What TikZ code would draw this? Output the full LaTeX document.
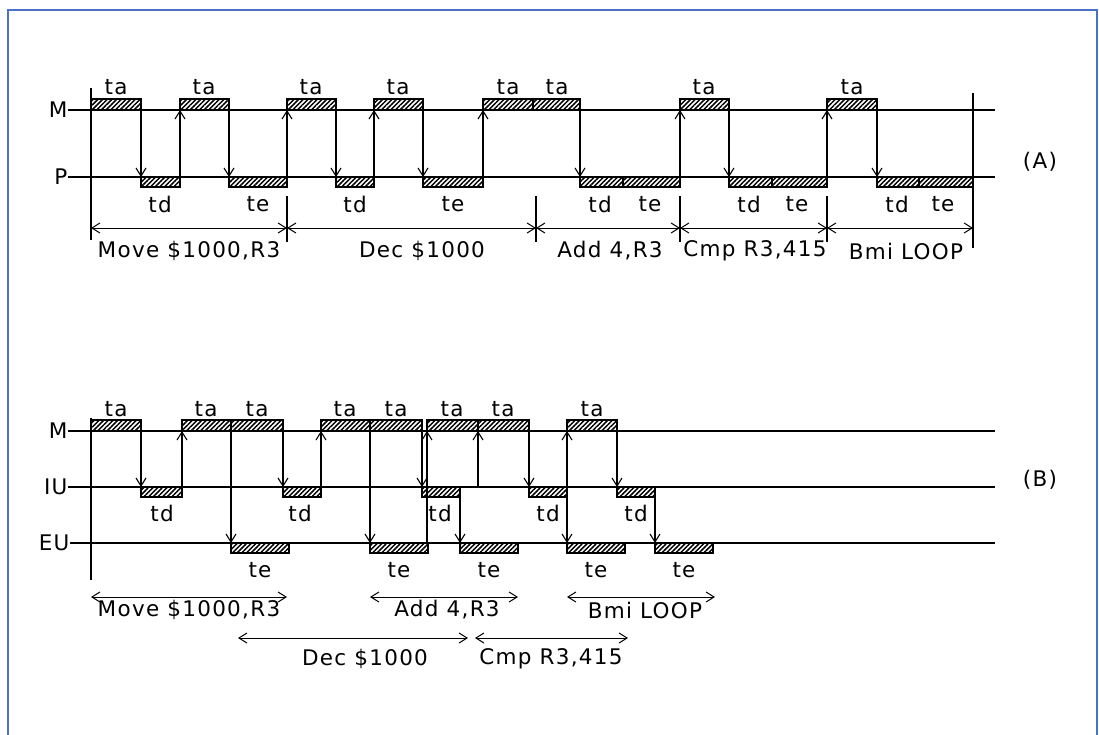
\documentclass[tikz,border=0pt]{standalone}
\usepackage{fontspec}
\usepackage{tikz}
\usepackage{xcolor}
\usetikzlibrary{patterns.meta,arrows.meta}
\newfontfamily\plotfont[LetterSpace=6]{DejaVu Sans}
\definecolor{frameblue}{RGB}{74,112,204}

\begin{document}
\begin{tikzpicture}[x=1pt, y=-1pt, line width=1.1pt,
    >={Straight Barb[length=8pt,width=10pt]},
    every node/.style={inner sep=0pt, font=\plotfont\fontsize{21.5}{25}\selectfont},
    hatchbox/.style={draw, line width=1.5pt, pattern={Lines[angle=45,distance=3.3pt,line width=1.5pt]}},
    dimline/.style={<->, line width=1pt}]
  \useasboundingbox (0,0) rectangle (1099,734);

  % frame round the figure
  \draw[frameblue, line width=2.5pt] (8,740) -- (8,10) -- (1097,10) -- (1097,740);

  % ---------- (A) sequential: M and P ----------
  \node[anchor=east] (MA) at (68,110) {M};
  \node[anchor=east] (PA) at (68,177) {P};
  \draw (MA.east) -- (995,110);
  \draw (PA.east) -- (995,177);
  \node (labA) at (1040,162) {(A)};

  % memory accesses (ta) and processor phases (td, te)
  \foreach \a/\b in {91/141,180/229,287/336,374/423,483/533,533/580,680/729,827/877}
    \draw[hatchbox] (\a,99) rectangle (\b,110);
  \foreach \a/\b in {141/180,229/287,336/374,423/483,580/623,623/680,729/772,772/827,877/919,919/973}
    \draw[hatchbox] (\a,177) rectangle (\b,187);

  % hand-overs between M and P
  \foreach \x in {141,229,336,423,580,729,877} \draw[->] (\x,110) -- (\x,177);
  \foreach \x in {180,287,374,483,680,827} \draw[->] (\x,177) -- (\x,110);

  \foreach \x [count=\i] in {116,204,311,398,508,557,704,852}
    \node (taA\i) at (\x,87) {ta};
  \foreach \x/\t [count=\i] in {160/td,258/te,355/td,453/te,600/td,650/te,749/td,797/te,897/td,943/te}
    \node (tpA\i) at (\x,204) {\t};

  % instruction spans
  \draw (91,88) -- (91,240);
  \draw (973,93) -- (973,248);
  \foreach \x in {287,536,680,827} \draw (\x,196) -- (\x,242);
  \foreach \x [count=\i from 0] in {91,287,536,680,827,973} \coordinate (dA\i) at (\x,228);
  \foreach \i/\j in {0/1,1/2,2/3,3/4,4/5} \draw[dimline] (dA\i) -- (dA\j);

  \node (insA1) at (189,251) {Move \$1000,R3};
  \node (insA2) at (422,251) {Dec \$1000};
  \node (insA3) at (610,251) {Add 4,R3};
  \node (insA4) at (755,251) {Cmp R3,415};
  \node (insA5) at (906,251) {Bmi LOOP};

  % ---------- (B) pipelined: M, IU and EU ----------
  \node[anchor=east] (MB) at (68,431) {M};
  \node[anchor=east] (IUB) at (68,487) {IU};
  \node[anchor=east] (EUB) at (70,543) {EU};
  \draw (MB.east) -- (995,431);
  \draw (IUB.east) -- (995,487);
  \draw (EUB.east) -- (995,543);
  \node (labB) at (1040,480) {(B)};

  \foreach \a/\b in {91/141,182/231,231/283,321/370,370/422,427/478,478/529,567/617}
    \draw[hatchbox] (\a,420) rectangle (\b,431);
  \foreach \a/\b in {141/182,283/321,422/460,529/567,617/655}
    \draw[hatchbox] (\a,487) rectangle (\b,497);
  \foreach \a/\b in {231/289,370/428,460/518,567/625,655/713}
    \draw[hatchbox] (\a,543) rectangle (\b,553);

  % M -> IU, IU -> M, M -> EU, EU -> M, IU -> EU
  \foreach \x in {141,283,422,529,617} \draw[->] (\x,431) -- (\x,487);
  \foreach \x in {182,321,478,567} \draw[->] (\x,487) -- (\x,431);
  \foreach \x in {231,370} \draw[->] (\x,431) -- (\x,543);
  \draw[->] (427,543) -- (427,431);
  \foreach \x in {460,567,655} \draw[->] (\x,487) -- (\x,543);

  \foreach \x [count=\i] in {116,206,257,345,396,452,503,592}
    \node (taB\i) at (\x,409) {ta};
  \foreach \x [count=\i] in {162,300,440,548,636}
    \node (tdB\i) at (\x,513) {td};
  \foreach \x [count=\i] in {260,399,489,596,684}
    \node (teB\i) at (\x,570) {te};

  % instruction spans, overlapping
  \draw (91,418) -- (91,580);
  \coordinate (mvL) at (91,597);  \coordinate (mvR) at (287,597);
  \coordinate (adL) at (370,597); \coordinate (adR) at (518,597);
  \coordinate (bmL) at (567,597); \coordinate (bmR) at (715,597);
  \coordinate (dcL) at (238,638); \coordinate (dcR) at (468,638);
  \coordinate (cpL) at (475,638); \coordinate (cpR) at (628,638);
  \draw[dimline] (mvL) -- (mvR);
  \draw[dimline] (adL) -- (adR);
  \draw[dimline] (bmL) -- (bmR);
  \draw[dimline] (dcL) -- (dcR);
  \draw[dimline] (cpL) -- (cpR);

  \node (insB1) at (189,610) {Move \$1000,R3};
  \node (insB2) at (447,610) {Add 4,R3};
  \node (insB3) at (645,610) {Bmi LOOP};
  \node (insB4) at (365,659) {Dec \$1000};
  \node (insB5) at (551,659) {Cmp R3,415};
\end{tikzpicture}
\end{document}
